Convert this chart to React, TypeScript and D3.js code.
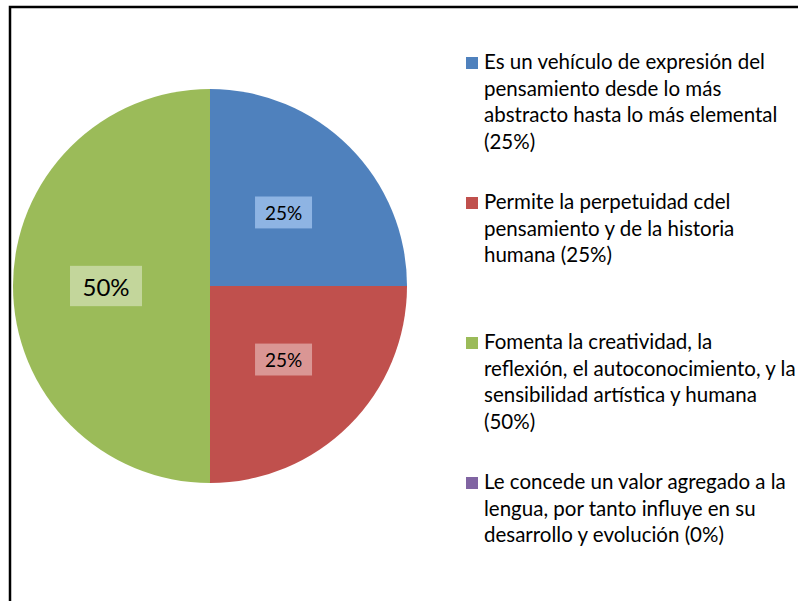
import React from "react";
import * as d3 from "d3";

// chart values
const categories = [
  "Es un vehículo de expresión del pensamiento desde lo más abstracto hasta lo más elemental (25%)",
  "Permite la perpetuidad cdel pensamiento y de la historia humana (25%)",
  "Fomenta la creatividad, la reflexión, el autoconocimiento, y la sensibilidad artística y humana (50%)",
  "Le concede un valor agregado a la lengua, por tanto influye en su desarrollo y evolución (0%)",
];
const legendLines = [
  ["Es un vehículo de expresión del", "pensamiento desde lo más", "abstracto hasta lo más elemental", "(25%)"],
  ["Permite la perpetuidad cdel", "pensamiento y de la historia", "humana (25%)"],
  ["Fomenta la creatividad, la", "reflexión, el autoconocimiento, y la", "sensibilidad artística y humana", "(50%)"],
  ["Le concede un valor agregado a la", "lengua, por tanto influye en su", "desarrollo y evolución (0%)"],
];
const values = [25, 25, 50, 0];
const valueLabels = ["25%", "25%", "50%", "0%"];

const colors = ["#4F81BD", "#C0504D", "#9BBB59", "#8064A2"];
const labelFills = ["#8EB4E3", "#DA9694", "#C3D69B", "#B3A2C7"];
const labelSizes = [19, 19, 24, 19];

const W = 798;
const H = 601;
const font = "Lato, 'Open Sans', sans-serif";

const App = () => {
  const cx = 210;
  const cy = 286;
  const radius = 197;

  const pie = d3.pie<number>().sort(null).value(d => d);
  const arcs = pie(values);
  const arc = d3.arc<d3.PieArcDatum<number>>().innerRadius(0).outerRadius(radius);
  const labelArc = d3.arc<d3.PieArcDatum<number>>().innerRadius(104).outerRadius(104);

  const legendY = d3.scaleLinear().domain([0, 1]).range([69, 209]);
  const lineH = 26.5;

  return (
    <div style={{ position: "fixed", left: 0, top: 0, width: W, height: H, overflow: "hidden", background: "#fff" }}>
      <svg width={W} height={H} style={{ display: "block" }}>
        <rect x={10} y={7} width={900} height={700} fill="#fff" stroke="#000" strokeWidth={2.5} />
        <g transform={`translate(${cx},${cy})`}>
          {arcs.map((a, i) => (
            <path key={i} d={arc(a) || ""} fill={colors[i]} />
          ))}
          {arcs.map((a, i) => {
            if (a.value <= 0) return null;
            const [lx, ly] = labelArc.centroid(a);
            const fs = labelSizes[i];
            const bw = fs * 3.0;
            const bh = fs * 1.68;
            return (
              <g key={i} transform={`translate(${lx},${ly})`}>
                <rect x={-bw / 2} y={-bh / 2} width={bw} height={bh} fill={labelFills[i]} />
                <text
                  textAnchor="middle"
                  dominantBaseline="central"
                  fontFamily={font}
                  fontSize={fs}
                  fill="#000"
                >
                  {valueLabels[i]}
                </text>
              </g>
            );
          })}
        </g>
        <g>
          {categories.map((c, i) => {
            const y0 = legendY(i);
            return (
              <g key={i}>
                <title>{c}</title>
                <rect x={466} y={y0 - 12} width={12} height={12} fill={colors[i]} />
                <text x={484} y={y0} fontFamily={font} fontSize={20.5} fill="#000">
                  {legendLines[i].map((l, j) => (
                    <tspan key={j} x={484} y={y0 + j * lineH}>
                      {l}
                    </tspan>
                  ))}
                </text>
              </g>
            );
          })}
        </g>
      </svg>
    </div>
  );
};

export default App;
